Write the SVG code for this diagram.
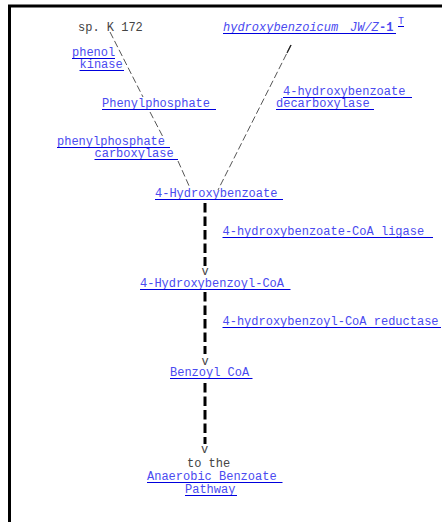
<svg xmlns="http://www.w3.org/2000/svg" width="442" height="522" viewBox="0 0 442 522">
  <style>
    text { font-family: "Liberation Mono", "Courier New", monospace; font-size: 12px; }
    .plain { fill: #444; }
    .link { fill: #4a4af0; }
    .ital { font-style: italic; }
    .bold { font-weight: bold; }
    .ul { stroke: #0000dd; stroke-width: 1; }
    .thin { stroke: #555; stroke-width: 1; stroke-dasharray: 7 3; fill: none; }
    .thick { stroke: #000; stroke-width: 3; stroke-dasharray: 9.5 4; fill: none; }
    .frame { stroke: #000; fill: none; }
  </style>

  <rect width="442" height="522" fill="#fff"/>

  <!-- page frame -->
  <g id="frame">
    <line class="frame" x1="8" y1="6" x2="442" y2="6" stroke-width="3"/>
    <line class="frame" x1="9.5" y1="5" x2="9.5" y2="522" stroke-width="3"/>
  </g>

  <!-- connectors -->
  <g id="connectors">
    <path class="thin" d="M110 32 L143 97"/>
    <path class="thin" d="M150 112 L163 137"/>
    <path class="thin" d="M178 161 L190 188"/>
    <path class="thin" d="M291 45 L218 190"/>
    <path d="M291 45 L287 53" stroke="#222" stroke-width="1.3" fill="none"/>
    <path class="thick" d="M205 203 V266"/>
    <path class="thick" d="M205 292 V354"/>
    <path class="thick" d="M205 383 V444"/>
  </g>

  <g id="source-organism-1">
    <text class="plain" x="78" y="31">sp. K 172</text>
  </g>

  <g id="source-organism-2">
    <text class="link ital" x="223" y="31">hydroxybenzoicum</text>
    <text class="link ital" x="350" y="31">JW/Z</text>
    <text class="link bold" x="379" y="31">-1</text>
    <line class="ul" x1="223" y1="33.5" x2="396" y2="33.5"/>
    <text class="link" x="398" y="24" style="font-size:10px">T</text>
    <line class="ul" x1="398" y1="26.5" x2="404" y2="26.5"/>
  </g>

  <g id="phenol-kinase">
    <text class="link" x="72" y="56">phenol</text>
    <line class="ul" x1="72" y1="58.5" x2="115" y2="58.5"/>
    <text class="link" x="79.5" y="68">kinase</text>
    <line class="ul" x1="79.5" y1="70.5" x2="124" y2="70.5"/>
  </g>

  <g id="phenylphosphate">
    <text class="link" x="102" y="107">Phenylphosphate</text>
    <line class="ul" x1="102" y1="109.5" x2="216" y2="109.5"/>
  </g>

  <g id="hydroxybenzoate-decarboxylase">
    <text class="link" x="283" y="95">4-hydroxybenzoate</text>
    <line class="ul" x1="283" y1="97.5" x2="412" y2="97.5"/>
    <text class="link" x="276" y="107">decarboxylase</text>
    <line class="ul" x1="276" y1="109.5" x2="374" y2="109.5"/>
  </g>

  <g id="phenylphosphate-carboxylase">
    <text class="link" x="57" y="145">phenylphosphate</text>
    <line class="ul" x1="57" y1="147.5" x2="170" y2="147.5"/>
    <text class="link" x="94.5" y="157">carboxylase</text>
    <line class="ul" x1="94.5" y1="159.5" x2="178" y2="159.5"/>
  </g>

  <g id="hydroxybenzoate">
    <text class="link" x="155" y="197">4-Hydroxybenzoate</text>
    <line class="ul" x1="155" y1="199.5" x2="283" y2="199.5"/>
  </g>

  <g id="hydroxybenzoate-coa-ligase">
    <text class="link" x="222.5" y="235">4-hydroxybenzoate-CoA ligase</text>
    <line class="ul" x1="222.5" y1="237.5" x2="433" y2="237.5"/>
  </g>

  <g id="arrow-1"><text class="plain" x="201.5" y="275">v</text></g>

  <g id="hydroxybenzoyl-coa">
    <text class="link" x="140" y="287">4-Hydroxybenzoyl-CoA</text>
    <line class="ul" x1="140" y1="289.5" x2="290.5" y2="289.5"/>
  </g>

  <g id="hydroxybenzoyl-coa-reductase">
    <text class="link" x="222.5" y="325">4-hydroxybenzoyl-CoA reductase</text>
    <line class="ul" x1="222.5" y1="327.5" x2="441" y2="327.5"/>
  </g>

  <g id="arrow-2"><text class="plain" x="201.5" y="365">v</text></g>

  <g id="benzoyl-coa">
    <text class="link" x="170" y="376">Benzoyl CoA</text>
    <line class="ul" x1="170" y1="378.5" x2="252.5" y2="378.5"/>
  </g>

  <g id="arrow-3"><text class="plain" x="201" y="453">v</text></g>

  <g id="anaerobic-benzoate-pathway">
    <text class="plain" x="187" y="467">to the</text>
    <text class="link" x="147" y="480">Anaerobic Benzoate</text>
    <line class="ul" x1="147" y1="482.5" x2="282.5" y2="482.5"/>
    <text class="link" x="185" y="493">Pathway</text>
    <line class="ul" x1="185" y1="495.5" x2="237" y2="495.5"/>
  </g>
</svg>
